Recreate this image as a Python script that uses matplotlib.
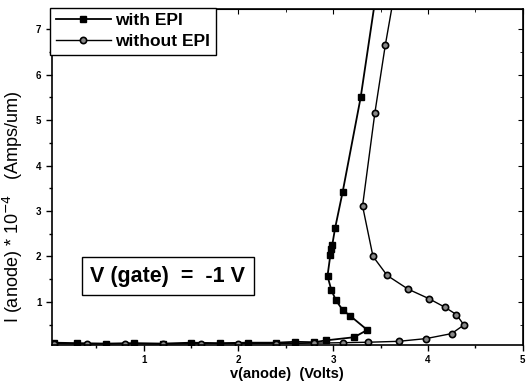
import matplotlib
matplotlib.use('Agg')
import matplotlib.pyplot as plt
from matplotlib.ticker import MultipleLocator

plt.rcParams['font.family'] = ['Liberation Sans', 'DejaVu Sans']

# with EPI (squares)
x_epi = [0.05, 0.3, 0.6, 0.9, 1.2, 1.5, 1.8, 2.1, 2.4, 2.6, 2.8, 2.92, 3.22, 3.36,
         3.18, 3.10, 3.03, 2.98, 2.94, 2.97, 2.98, 2.99, 3.02, 3.10, 3.29, 3.44]
y_epi = [0.10, 0.09, 0.08, 0.09, 0.08, 0.10, 0.09, 0.10, 0.10, 0.12, 0.11, 0.15, 0.22, 0.38,
         0.69, 0.82, 1.03, 1.26, 1.57, 2.03, 2.16, 2.25, 2.62, 3.42, 5.50, 7.60]

# without EPI (circles)
x_no = [0.05, 0.4, 0.8, 1.2, 1.6, 2.0, 2.4, 2.8, 3.1, 3.37, 3.69, 3.98, 4.25, 4.38,
        4.30, 4.18, 4.01, 3.79, 3.57, 3.42, 3.31, 3.44, 3.55, 3.63]
y_no = [0.08, 0.07, 0.08, 0.07, 0.08, 0.08, 0.08, 0.09, 0.10, 0.11, 0.13, 0.19, 0.30, 0.49,
        0.72, 0.88, 1.07, 1.28, 1.58, 2.00, 3.11, 5.16, 6.65, 7.60]

xticks = [1, 2, 3, 4, 5]
yticks = [1, 2, 3, 4, 5, 6, 7]

fig = plt.figure(figsize=(5.29, 3.85), dpi=100)
ax = fig.add_axes([0.098, 0.104, 0.89, 0.873])

ax.plot(x_epi, y_epi, color='black', lw=1.3, marker='s', ms=5, label='with EPI')
ax.plot(x_no, y_no, color='black', lw=1.0, marker='o', ms=4.5, mfc='#888888', mec='black',
        mew=1.2, label='without EPI')

ax.set_xlim(0.03, 5.0)
ax.set_ylim(0.05, 7.45)
ax.set_xticks(xticks)
ax.set_yticks(yticks)
ax.xaxis.set_minor_locator(MultipleLocator(0.5))
ax.yaxis.set_minor_locator(MultipleLocator(0.5))
ax.tick_params(which='both', direction='out', top=False, right=False, labelsize=7, width=1)
ax.tick_params(which='major', length=4)
ax.tick_params(which='minor', length=2)
for lab in ax.get_xticklabels() + ax.get_yticklabels():
    lab.set_fontweight('bold')

# inward ticks on top and right
ax2 = ax.secondary_xaxis('top')
ax2.set_xticks(xticks)
ax2.xaxis.set_minor_locator(MultipleLocator(0.5))
ax2.tick_params(which='both', direction='in', labeltop=False)
ax3 = ax.secondary_yaxis('right')
ax3.set_yticks(yticks)
ax3.yaxis.set_minor_locator(MultipleLocator(0.5))
ax3.tick_params(which='both', direction='in', labelright=False)

for s in ax.spines.values():
    s.set_linewidth(1.2)

ax.set_xlabel('v(anode)  (Volts)', fontsize=10.5, fontweight='bold', labelpad=1)
ax.set_ylabel('I (anode) * 10$^{-4}$   (Amps/um)', fontsize=13, labelpad=5)
ax.yaxis.set_label_coords(-0.058, 0.41)

leg = ax.legend(loc='upper left', bbox_to_anchor=(-0.003, 1.003), fancybox=False,
                edgecolor='black', framealpha=1, borderpad=0.3, handlelength=3.2,
                handletextpad=0.25, labelspacing=0.35, borderaxespad=0,
                prop={'weight': 'bold', 'size': 12.5})
leg.get_frame().set_linewidth(1.0)

ax.text(0.082, 0.205, 'V (gate)  =  -1 V', transform=ax.transAxes, fontsize=15.5,
        fontweight='bold', va='center', ha='left',
        bbox=dict(boxstyle='square,pad=0.4', fc='white', ec='black', lw=1.0))

fig.savefig('out.png', dpi=100)
